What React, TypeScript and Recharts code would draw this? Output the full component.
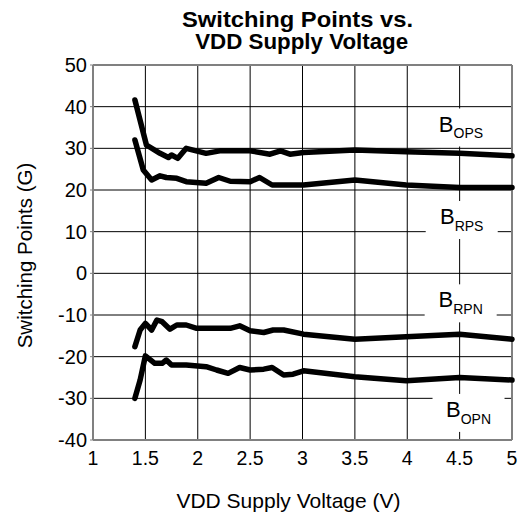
import React from "react";
import { LineChart, Line, XAxis, YAxis, ReferenceDot } from "recharts";

// Supply voltage (V) and switching points (G) for each curve
const bopsV = [1.40, 1.51, 1.64, 1.72, 1.75, 1.81, 1.89, 2.08, 2.21, 2.50, 2.69, 2.79, 2.88, 3.01, 3.50, 3.99, 4.50, 5.00];
const bopsG = [41.6, 30.8, 28.8, 27.8, 28.4, 27.6, 30.0, 28.8, 29.4, 29.4, 28.6, 29.4, 28.6, 29.0, 29.6, 29.2, 28.8, 28.2];

const brpsV = [1.40, 1.48, 1.56, 1.64, 1.70, 1.80, 1.89, 2.08, 2.20, 2.31, 2.50, 2.59, 2.71, 3.01, 3.50, 3.99, 4.50, 5.00];
const brpsG = [32.0, 24.8, 22.4, 23.4, 23.0, 22.8, 22.0, 21.6, 23.0, 22.1, 22.0, 23.0, 21.2, 21.2, 22.4, 21.2, 20.6, 20.6];

const brpnV = [1.40, 1.45, 1.50, 1.56, 1.61, 1.66, 1.735, 1.80, 1.89, 1.99, 2.31, 2.40, 2.50, 2.63, 2.72, 2.82, 3.01, 3.50, 3.99, 4.50, 5.00];
const brpnG = [-17.6, -13.6, -12.0, -13.6, -11.2, -11.6, -13.4, -12.4, -12.4, -13.2, -13.2, -12.6, -13.8, -14.2, -13.6, -13.6, -14.6, -15.8, -15.2, -14.6, -15.8];

const bopnV = [1.40, 1.45, 1.50, 1.59, 1.66, 1.70, 1.75, 1.89, 2.08, 2.18, 2.29, 2.40, 2.50, 2.63, 2.71, 2.82, 2.91, 3.01, 3.50, 3.99, 4.50, 5.00];
const bopnG = [-30.0, -25.6, -19.8, -21.6, -21.6, -20.8, -22.0, -22.0, -22.4, -23.2, -24.0, -22.6, -23.2, -23.0, -22.6, -24.4, -24.2, -23.4, -24.8, -25.8, -25.0, -25.6];

const voltageTicks = [1, 1.5, 2, 2.5, 3, 3.5, 4, 4.5, 5];
const fieldTicks = [-40, -30, -20, -10, 0, 10, 20, 30, 40, 50];
const xDomain = [1, 5];
const yDomain = [-40, 50];

// Curve labels: subscript text and anchor in data coordinates
const labelSubs = ["OPS", "RPS", "RPN", "OPN"];
const labelV = [4.513, 4.52, 4.51, 4.585];
const labelG = [35.0, 12.8, -7.2, -33.5];

const titleLines = ["Switching Points vs.", "VDD Supply Voltage"];
const xTitle = "VDD Supply Voltage (V)";
const yTitle = "Switching Points (G)";

const zip = (vs: number[], gs: number[]) => vs.map((v, i) => ({ v, g: gs[i] }));
const series = [zip(bopsV, bopsG), zip(brpsV, brpsG), zip(brpnV, brpnG), zip(bopnV, bopnG)];

// Grid lines built from the tick values (drawn through the chart scales)
const vGrid = voltageTicks.slice(1, -1).map((t) => [{ v: t, g: yDomain[0] }, { v: t, g: yDomain[1] }]);
const hGrid = fieldTicks.slice(1, -1).map((t) => [{ v: xDomain[0], g: t }, { v: xDomain[1], g: t }]);
const frameTop = [{ v: xDomain[0], g: yDomain[1] }, { v: xDomain[1], g: yDomain[1] }];
const frameRight = [{ v: xDomain[1], g: yDomain[0] }, { v: xDomain[1], g: yDomain[1] }];

const FONT = "'Liberation Sans', Arial, Helvetica, sans-serif";
const GRAY = "#808080";

const labelShapes = labelSubs.map((sub) => (props: any) => {
  const { cx, cy } = props;
  return (
    <g>
      <rect x={cx - 36} y={cy - 19} width={72} height={38} fill="#fff" />
      <text x={cx} y={cy + 4} textAnchor="middle" fontFamily={FONT} fill="#000">
        <tspan fontSize={22}>B</tspan>
        <tspan fontSize={14} dy={6.6}>{sub}</tspan>
      </text>
    </g>
  );
});

const yLabelContent = () => (
  <g>
    <text x={297.5} y={27.3} textAnchor="middle" fontSize={21.5} fontWeight="bold" fontFamily={FONT}
      textLength={231} lengthAdjust="spacingAndGlyphs" fill="#000">
      {titleLines[0]}
    </text>
    <text x={301.7} y={49.3} textAnchor="middle" fontSize={21.5} fontWeight="bold" fontFamily={FONT}
      textLength={213} lengthAdjust="spacingAndGlyphs" fill="#000">
      {titleLines[1]}
    </text>
    <text x={31.7} y={255.5} transform="rotate(-90, 31.7, 255.5)" textAnchor="middle"
      fontSize={20.5} fontFamily={FONT} fill="#000">
      {yTitle}
    </text>
  </g>
);

const xLabelContent = () => (
  <text x={288.5} y={508.3} textAnchor="middle" fontSize={21} fontFamily={FONT} fill="#000">
    {xTitle}
  </text>
);

const xLabel = { content: xLabelContent };
const yLabel = { content: yLabelContent };
const xTickStyle = { fontSize: 19.5, fill: "#000", fontFamily: FONT };
const yTickStyle = { fontSize: 20, fill: "#000", fontFamily: FONT };
const axisLineStyle = { stroke: GRAY, strokeWidth: 2 };
const tickLineStyle = { stroke: GRAY };
const chartMargin = { top: 65, right: 12, bottom: 0, left: 0 };
const wrapStyle: React.CSSProperties = { position: "absolute", left: 0, top: 0, width: 524, height: 516 };

export default function App() {
  return (
    <div style={wrapStyle}>
      <LineChart width={524} height={516} margin={chartMargin}>
        <XAxis
          type="number"
          dataKey="v"
          domain={xDomain}
          ticks={voltageTicks}
          height={76}
          axisLine={axisLineStyle}
          tickLine={false}
          tickSize={0}
          tickMargin={11}
          tick={xTickStyle}
          label={xLabel}
        />
        <YAxis
          type="number"
          dataKey="g"
          domain={yDomain}
          ticks={fieldTicks}
          width={93}
          axisLine={axisLineStyle}
          tickLine={tickLineStyle}
          tickSize={3}
          tickMargin={3}
          tick={yTickStyle}
          label={yLabel}
        />
        {vGrid.map((d, i) => (
          <Line key={"vg" + i} data={d} dataKey="g" type="linear" stroke="#000" strokeWidth={1}
            dot={false} activeDot={false} isAnimationActive={false} />
        ))}
        {hGrid.map((d, i) => (
          <Line key={"hg" + i} data={d} dataKey="g" type="linear" stroke="#000" strokeWidth={1}
            dot={false} activeDot={false} isAnimationActive={false} />
        ))}
        <Line data={frameTop} dataKey="g" type="linear" stroke={GRAY} strokeWidth={2}
          dot={false} activeDot={false} isAnimationActive={false} />
        <Line data={frameRight} dataKey="g" type="linear" stroke={GRAY} strokeWidth={2}
          dot={false} activeDot={false} isAnimationActive={false} />
        {labelSubs.map((s, i) => (
          <ReferenceDot key={s} x={labelV[i]} y={labelG[i]} r={0} shape={labelShapes[i]} />
        ))}
        {series.map((d, i) => (
          <Line
            key={"s" + i}
            data={d}
            dataKey="g"
            type="linear"
            stroke="#000"
            strokeWidth={5.5}
            strokeLinejoin="round"
            strokeLinecap="round"
            dot={false}
            activeDot={false}
            isAnimationActive={false}
          />
        ))}
      </LineChart>
    </div>
  );
}
